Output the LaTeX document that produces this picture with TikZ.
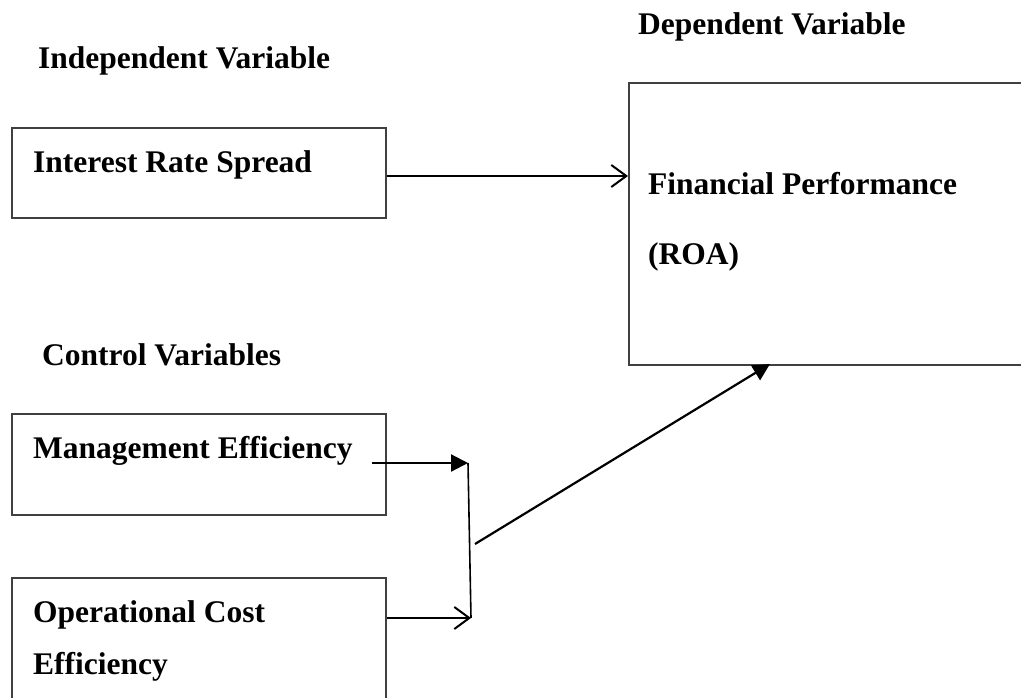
\documentclass[tikz,border=0pt]{standalone}
\usepackage{fontspec}
\setmainfont{Liberation Serif}
\usetikzlibrary{arrows.meta}
\begin{document}
\begin{tikzpicture}[x=1pt,y=-1pt,
  boxst/.style={draw=black!75,line width=1.6pt,rectangle,inner sep=0pt,anchor=north west},
  lbl/.style={anchor=base west,inner sep=0pt,font=\fontsize{31.5}{36}\bfseries\selectfont},
  conn/.style={line width=2.2pt,draw=black},
  openarr/.style={conn,-{Straight Barb[length=15pt,width=22pt,line width=2pt]}},
  fillarr/.style={conn,-{Triangle[length=17pt,width=17pt]}}]
\useasboundingbox (0,0) rectangle (1021,698);
\begin{scope}
\clip (0,0) rectangle (1021,698);
\node[boxst,minimum width=374pt,minimum height=90pt] (b1) at (11,127) {};
\node[boxst,minimum width=374pt,minimum height=101pt] (b2) at (11,413) {};
\node[boxst,minimum width=374pt,minimum height=160pt] (b3) at (11,577) {};
\node[boxst,minimum width=460pt,minimum height=282pt] (roa) at (628,82) {};
\end{scope}
\node[lbl] (tdep) at (638,35) {Dependent Variable};
\node[lbl] (tind) at (38,69) {Independent Variable};
\node[lbl] (tirs) at (33,173) {Interest Rate Spread};
\node[lbl] (tfp) at (648,195) {Financial Performance};
\node[lbl] (troa) at (648,264) {(ROA)};
\node[lbl] (tcv) at (42,365) {Control Variables};
\node[lbl] (tme) at (33,458) {Management Efficiency};
\node[lbl] (toc) at (33,622) {Operational Cost};
\node[lbl] (tef) at (33,674) {Efficiency};
\coordinate (m0) at (372,463);
\coordinate (j1) at (468,463);
\coordinate (j2) at (471,618);
\coordinate (d0) at (475,544);
\coordinate (d1) at (770,364);
\draw[openarr] (b1.east |- 0,176) -- (roa.west |- 0,176);
\draw[fillarr] (m0) -- (j1);
\draw[conn,line width=1.6pt] (j1) -- (j2);
\draw[openarr] (b3.east |- j2) -- (j2);
\draw[fillarr] (d0) -- (d1);
\end{tikzpicture}
\end{document}
